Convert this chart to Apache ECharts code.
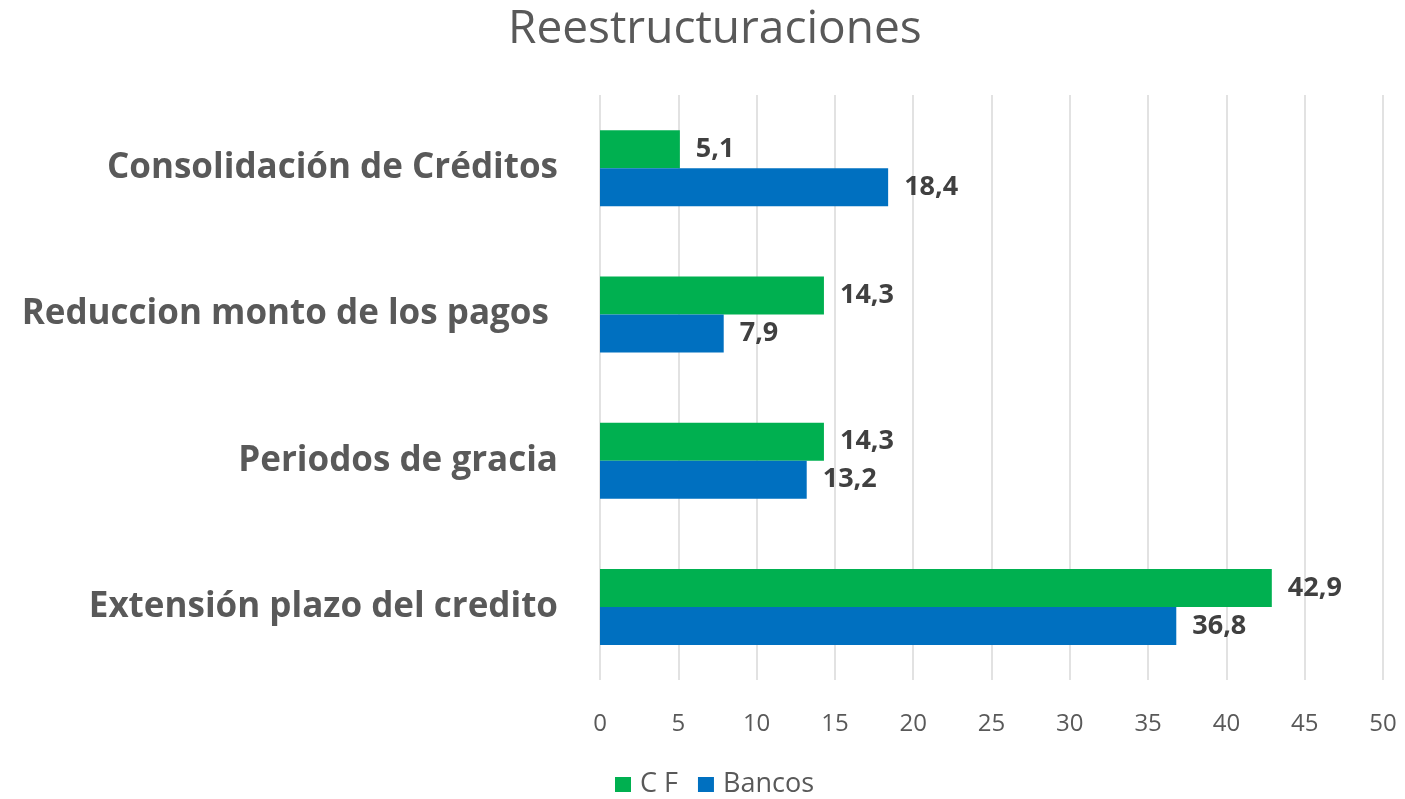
<!DOCTYPE html>
<html lang="es">
<head>
    <meta charset="UTF-8">
    <title>Reestructuraciones</title>
    <script src="https://cdn.jsdelivr.net/npm/echarts@6/dist/echarts.min.js"></script>
    <style>
        html, body { margin: 0; padding: 0; background: #fff; }
        #main { width: 1405px; height: 799px; }
    </style>
</head>
<body>
    <div id="main"></div>
    <script>
        // categorias de abajo hacia arriba (eje y)
        var categorias = ['Extensión plazo del credito', 'Periodos de gracia', 'Reduccion monto de los pagos ', 'Consolidación de Créditos'];
        var cf = [42.9, 14.3, 14.3, 5.1];
        var bancos = [36.8, 13.2, 7.9, 18.4];
        var xTicks = [0, 50, 5];

        var fuente = 'Open Sans';
        var etiqueta = {
            show: true,
            position: 'right',
            distance: 16,
            fontFamily: fuente,
            fontWeight: 'bold',
            fontSize: 27,
            color: '#404040',
            formatter: function (p) {
                return String(p.value).replace('.', ',');
            }
        };

        var myChart = echarts.init(document.getElementById('main'));
        var option = {
            animation: false,
            title: {
                text: 'Reestructuraciones',
                left: 503,
                top: 2,
                textStyle: {
                    fontFamily: fuente,
                    fontWeight: 'normal',
                    fontSize: 46,
                    color: '#595959'
                }
            },
            legend: {
                data: ['C F', 'Bancos'],
                top: 771,
                left: 615,
                icon: 'rect',
                itemWidth: 16,
                itemHeight: 15,
                itemGap: 20,
                padding: 0,
                textStyle: {
                    fontFamily: fuente,
                    fontSize: 27,
                    color: '#595959',
                    padding: [0, 0, 0, 4]
                }
            },
            grid: {
                left: 600,
                right: 22,
                top: 95,
                bottom: 119
            },
            xAxis: {
                type: 'value',
                min: xTicks[0],
                max: xTicks[1],
                interval: xTicks[2],
                axisLine: { show: false },
                axisTick: { show: false },
                splitLine: { lineStyle: { color: '#d9d9d9', width: 1.5 } },
                axisLabel: {
                    fontFamily: fuente,
                    fontSize: 24,
                    color: '#595959',
                    margin: 32
                }
            },
            yAxis: {
                type: 'category',
                data: categorias,
                axisLine: { show: false },
                axisTick: { show: false },
                axisLabel: {
                    fontFamily: fuente,
                    fontWeight: 'bold',
                    fontSize: 35,
                    color: '#595959',
                    margin: 42
                }
            },
            series: [
                {
                    name: 'C F',
                    type: 'bar',
                    data: cf,
                    barWidth: 38,
                    barGap: '0%',
                    itemStyle: { color: '#00b050' },
                    label: etiqueta
                },
                {
                    name: 'Bancos',
                    type: 'bar',
                    data: bancos,
                    barWidth: 38,
                    barGap: '0%',
                    itemStyle: { color: '#0070c0' },
                    label: etiqueta
                }
            ]
        };
        myChart.setOption(option);
    </script>
</body>
</html>
